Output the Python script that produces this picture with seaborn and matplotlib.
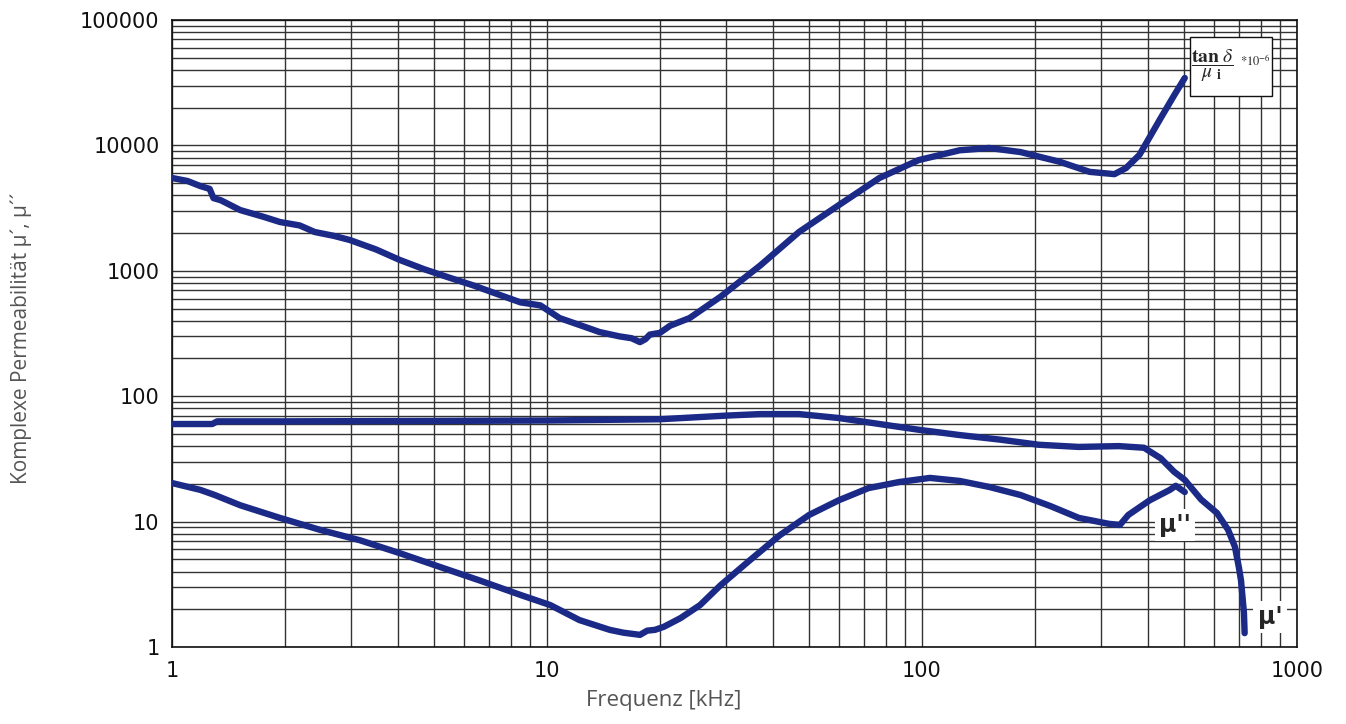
import numpy as np
import pandas as pd
import matplotlib
matplotlib.use("Agg")
import matplotlib.pyplot as plt
import seaborn as sns
from matplotlib.patches import Rectangle
from matplotlib.ticker import LogLocator, NullFormatter, FixedLocator, FixedFormatter

# tan(delta)/mu_i * 1e-6
f_tan = [1.0, 1.1, 1.19, 1.26, 1.29, 1.35, 1.52, 1.75, 1.94, 2.19, 2.4, 2.7, 2.98, 3.5,
         4.05, 4.7, 5.5, 6.4, 7.5, 8.5, 9.6, 10.8, 12.2, 13.8, 15.6, 16.8, 17.7, 18.3,
         18.8, 20.0, 21.3, 24.0, 29.0, 37.0, 47.0, 60.0, 77.0, 98.0, 126.0, 151.0,
         183.0, 233.0, 280.0, 326.0, 350.0, 380.0, 433.0, 470.0, 502.0]
v_tan = [5500, 5200, 4740, 4500, 3800, 3650, 3050, 2700, 2450, 2300, 2040, 1900, 1760, 1480,
         1220, 1030, 880, 760, 640, 560, 530, 420, 370, 325, 300, 290, 270, 285,
         310, 320, 365, 420, 620, 1100, 2040, 3340, 5500, 7640, 9140, 9540,
         8850, 7400, 6150, 5900, 6600, 8400, 16500, 25000, 34500]

# mu'
f_mu1 = [1.0, 1.2, 1.28, 1.32, 2.0, 5.0, 10.0, 20.0, 30.0, 37.0, 47.0, 60.0, 77.0, 98.0,
         126.0, 162.0, 205.0, 262.0, 335.0, 391.0, 433.0, 470.0, 502.0, 555.0, 612.0,
         655.0, 683.0, 700.0, 709.0, 722.0, 725.0]
v_mu1 = [60, 60, 60, 63, 63, 63.5, 64, 65.5, 70, 72, 72, 67, 60, 54,
         49, 45, 41, 39.4, 40, 38.8, 32, 25, 21.5, 15, 11.7,
         8.6, 6.3, 4.3, 3.4, 1.87, 1.29]

# mu''
f_mu2 = [1.0, 1.19, 1.3, 1.52, 1.94, 2.48, 3.17, 4.05, 5.18, 6.6, 8.5, 10.2, 12.2, 14.7,
         16.0, 17.7, 18.5, 19.4, 20.5, 22.7, 25.6, 29.0, 34.7, 41.8, 50.0, 60.0, 72.0,
         87.0, 105.0, 126.0, 151.0, 183.0, 220.0, 262.0, 315.0, 337.0, 355.0, 405.0,
         458.0, 475.0, 502.0]
v_mu2 = [20.3, 17.9, 16.3, 13.5, 10.7, 8.6, 7.1, 5.6, 4.35, 3.4, 2.6, 2.16, 1.64, 1.37,
         1.3, 1.25, 1.35, 1.37, 1.45, 1.7, 2.16, 3.1, 4.9, 7.8, 11.3, 14.8, 18.5,
         20.7, 22.3, 21.1, 18.9, 16.3, 13.3, 10.7, 9.6, 9.4, 11.3, 14.8,
         17.9, 19.3, 17.2]

x_ticks = [1, 10, 100, 1000]
y_ticks = [1, 10, 100, 1000, 10000, 100000]

line_color = "#1b2a87"
label_fonts = ["Open Sans", "DejaVu Sans"]

df = pd.concat([
    pd.DataFrame({"f": f_tan, "v": v_tan, "kurve": "tan"}),
    pd.DataFrame({"f": f_mu1, "v": v_mu1, "kurve": "mu1"}),
    pd.DataFrame({"f": f_mu2, "v": v_mu2, "kurve": "mu2"}),
])

sns.set_style("white")
plt.rcParams["font.family"] = ["DejaVu Sans"]
plt.rcParams["mathtext.fontset"] = "stix"

fig = plt.figure(figsize=(13.46, 7.24), dpi=100)
ax = fig.add_axes([172 / 1346, 1 - 647 / 724, 1125 / 1346, 627 / 724])

for name, grp in df.groupby("kurve", sort=False):
    sns.lineplot(data=grp, x="f", y="v", ax=ax, color=line_color, lw=4.6,
                 sort=False, estimator=None, solid_capstyle="round", zorder=3)

ax.set_xscale("log")
ax.set_yscale("log")
ax.set_xlim(1, 1000)
ax.set_ylim(1, 100000)

ax.xaxis.set_major_locator(FixedLocator(x_ticks))
ax.xaxis.set_major_formatter(FixedFormatter([str(t) for t in x_ticks]))
ax.yaxis.set_major_locator(FixedLocator(y_ticks))
ax.yaxis.set_major_formatter(FixedFormatter([str(t) for t in y_ticks]))
ax.xaxis.set_minor_locator(LogLocator(base=10, subs=np.arange(2, 10), numticks=20))
ax.yaxis.set_minor_locator(LogLocator(base=10, subs=np.arange(2, 10), numticks=20))
ax.xaxis.set_minor_formatter(NullFormatter())
ax.yaxis.set_minor_formatter(NullFormatter())

ax.grid(True, which="both", color="#333333", lw=1.0)
ax.tick_params(which="both", length=0, labelsize=15, labelcolor="#111111")
ax.tick_params(axis="x", pad=10)
ax.tick_params(axis="y", pad=9)
for s in ax.spines.values():
    s.set_color("#111111")
    s.set_linewidth(1.2)

ax.set_xlabel("Frequenz [kHz]", fontsize=16, color="#555555", family=label_fonts)
ax.xaxis.set_label_coords(0.437, -0.068)
ax.set_ylabel("Komplexe Permeabilität µ´, µ´´", fontsize=15, color="#555555",
              family=label_fonts)
ax.yaxis.set_label_coords(-0.124, 0.493)

# curve labels
ax.text(473, 9.4, "µ''", fontsize=17, fontweight="bold", ha="center", va="center",
        zorder=4, bbox=dict(facecolor="white", edgecolor="none", pad=3))
ax.text(847, 1.73, "µ'", fontsize=17, fontweight="bold", ha="center", va="center",
        zorder=4, bbox=dict(facecolor="white", edgecolor="none", pad=3))

# legend box for tan delta / mu_i
ax.add_patch(Rectangle((0.905, 0.879), 0.073, 0.094, transform=ax.transAxes,
                       facecolor="white", edgecolor="#111111", lw=1.0, zorder=5))
ax.text(0.925, 0.926, r"$\dfrac{\mathbf{tan}\ \delta}{\mu\ _{\mathbf{i}}}$",
        transform=ax.transAxes, fontsize=14, ha="center", va="center", zorder=6)
ax.text(0.9495, 0.935, r"*10$^{-6}$", transform=ax.transAxes, fontsize=9,
        ha="left", va="center", zorder=6, family=["STIXGeneral", "DejaVu Serif"])

fig.savefig("out.png", dpi=100)
